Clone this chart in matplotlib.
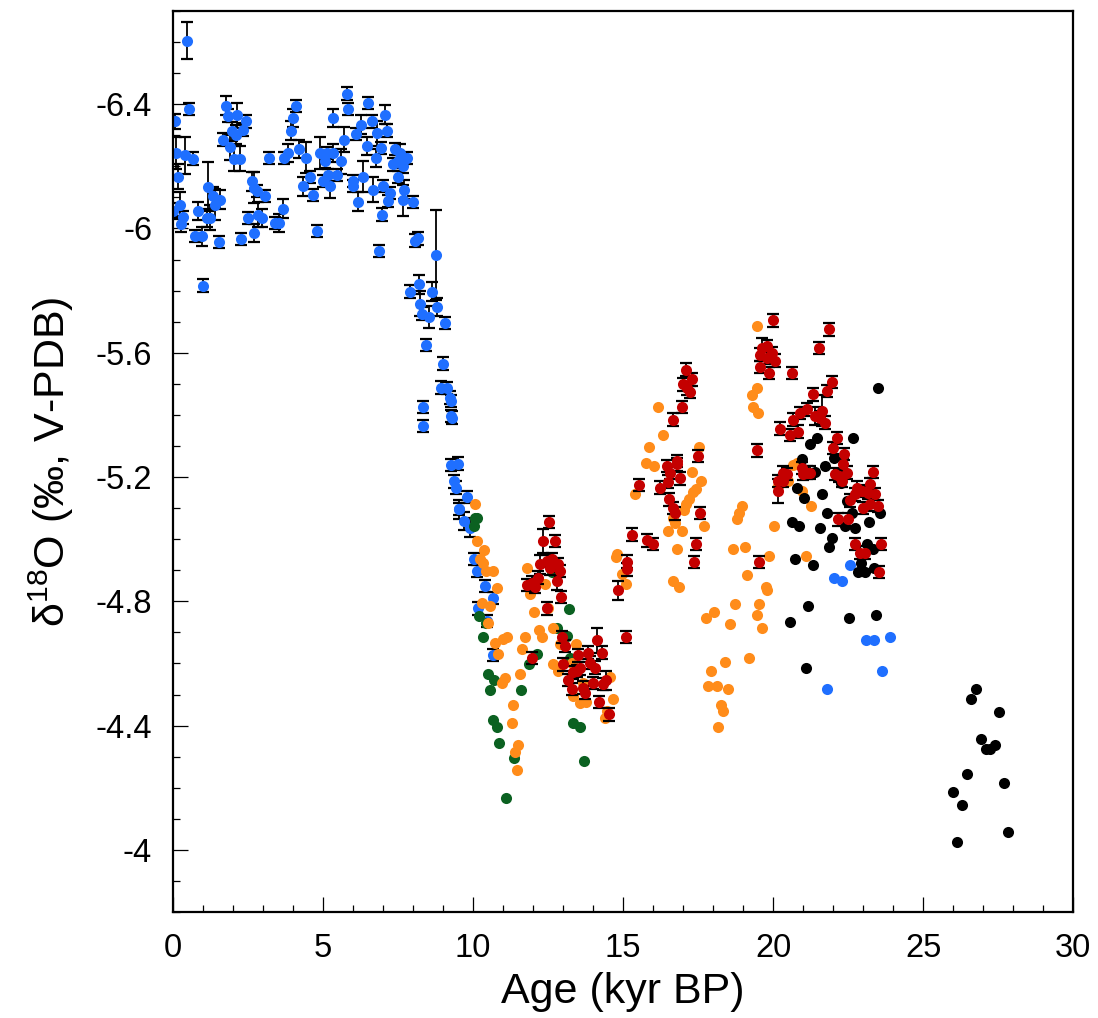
import numpy as np
from matplotlib import pyplot as plt
from matplotlib.ticker import MultipleLocator, FixedLocator, FormatStrFormatter

plt.rcParams['font.family'] = ['Liberation Sans', 'DejaVu Sans']
plt.rcParams['mathtext.fontset'] = 'custom'
plt.rcParams['mathtext.rm'] = 'Liberation Sans'
plt.rcParams['mathtext.it'] = 'Liberation Sans:italic'

# blue record (with error bars, last ones without)
blue_age = [0.46, 0.05, 0.54, 0.10, 0.40, 0.66, 0.18, 0.01, 0.23, 0.32, 0.27, 0.73, 0.96, 0.84, 1.01,
            1.16, 1.34, 1.57, 1.40, 1.12, 1.23, 1.52, 1.76, 1.82, 2.14, 2.43, 1.96, 2.10, 2.34, 1.68,
            1.90, 2.03, 2.23, 2.27, 2.62, 2.71, 2.79, 3.08, 2.51, 2.84, 2.96, 2.71, 3.20, 3.40, 3.54,
            3.66, 4.10, 4.01, 3.93, 3.84, 3.71, 4.21, 4.43, 4.57, 4.32, 4.68, 4.79, 5.34, 4.90, 5.12,
            5.34, 5.07, 5.60, 5.01, 5.23, 5.18, 5.46, 5.71, 5.79, 5.84, 6.09, 6.27, 6.51, 6.46, 6.62,
            6.79, 7.07, 7.12, 6.92, 6.77, 6.00, 6.01, 6.18, 6.34, 6.68, 7.01, 7.23, 7.18, 6.96, 6.87,
            7.40, 7.57, 7.79, 7.34, 7.51, 7.68, 7.49, 7.71, 7.68, 8.01, 8.07, 8.18, 8.77,
            7.90, 8.21, 8.62, 8.23, 8.79, 8.29, 8.54, 9.07, 8.42, 8.99, 8.92, 9.14, 9.23, 9.26, 8.32,
            8.34, 9.27, 9.29, 9.27, 9.51, 9.37, 9.43, 9.53, 9.81, 9.54, 9.71, 9.90, 10.03, 10.12,
            10.40, 10.68, 10.18, 10.48, 10.68,
            22.57, 22.03, 22.31, 23.10, 23.38, 23.90, 21.81, 23.64]
blue_d18o = [-6.604, -6.345, -6.385, -6.243, -6.236, -6.225, -6.166, -6.056, -6.077, -6.036, -6.015,
             -5.975, -5.975, -6.056, -5.816, -6.135, -6.104, -6.093, -6.077, -6.034, -6.034, -5.956,
             -6.395, -6.363, -6.364, -6.345, -6.313, -6.302, -6.318, -6.286, -6.262, -6.225, -6.225,
             -5.966, -6.152, -6.131, -6.120, -6.105, -6.034, -6.045, -6.034, -5.986, -6.227, -6.018,
             -6.018, -6.064, -6.395, -6.356, -6.315, -6.243, -6.227, -6.256, -6.227, -6.166, -6.136,
             -6.107, -5.991, -6.356, -6.243, -6.243, -6.243, -6.216, -6.216, -6.152, -6.138, -6.173,
             -6.173, -6.286, -6.434, -6.385, -6.304, -6.334, -6.404, -6.265, -6.345, -6.307, -6.366,
             -6.315, -6.259, -6.227, -6.152, -6.136, -6.086, -6.166, -6.125, -6.136, -6.115, -6.088,
             -6.045, -5.927, -6.256, -6.243, -6.227, -6.206, -6.216, -6.200, -6.166, -6.125, -6.091,
             -6.086, -5.961, -5.968, -5.914,
             -5.797, -5.820, -5.797, -5.758, -5.747, -5.726, -5.715, -5.696, -5.625, -5.565, -5.488,
             -5.486, -5.456, -5.445, -5.426, -5.365, -5.397, -5.391, -5.238, -5.243, -5.186, -5.166,
             -5.097, -5.136, -5.096, -5.058, -5.037, -4.937, -4.897, -4.849, -4.810, -4.777, -4.737,
             -4.627,
             -4.916, -4.876, -4.865, -4.675, -4.675, -4.685, -4.518, -4.576]
blue_err = [0.06, 0.025, 0.02, 0.05, 0.06, 0.02, 0.04, 0.025, 0.04, 0.02, 0.025, 0.02, 0.03, 0.03, 0.02,
            0.08, 0.03, 0.03, 0.05, 0.03, 0.04, 0.02, 0.03, 0.02, 0.04, 0.02, 0.03, 0.03, 0.02, 0.02,
            0.04, 0.04, 0.04, 0.02, 0.03, 0.05, 0.02, 0.02, 0.02, 0.04, 0.03, 0.03, 0.02, 0.02, 0.03,
            0.03, 0.02, 0.03, 0.03, 0.03, 0.02, 0.03, 0.05, 0.02, 0.03, 0.02, 0.02, 0.03, 0.05, 0.02,
            0.03, 0.02, 0.04, 0.02, 0.04, 0.02, 0.02, 0.04, 0.02, 0.02, 0.02, 0.03, 0.02, 0.03, 0.02,
            0.04, 0.03, 0.02, 0.02, 0.03, 0.02, 0.02, 0.03, 0.05, 0.04, 0.02, 0.02, 0.02, 0.02, 0.02,
            0.02, 0.03, 0.02, 0.02, 0.02, 0.02, 0.02, 0.03, 0.05, 0.02, 0.02, 0.02, 0.145,
            0.02, 0.03, 0.03, 0.04, 0.03, 0.02, 0.035, 0.02, 0.02, 0.02, 0.02, 0.02, 0.02, 0.02, 0.02,
            0.02, 0.02, 0.02, 0.02, 0.02, 0.02, 0.02, 0.02, 0.02, 0.03, 0.03, 0.03, 0.02, 0.02,
            0.02, 0.02, 0.02, 0.02, 0.02,
            0, 0, 0, 0, 0, 0, 0, 0]

# red record (with error bars)
red_age = [12.54, 12.34, 12.73, 12.23, 12.46, 12.62, 12.84, 12.90, 12.57, 12.18, 11.96, 11.79, 12.07,
           12.79, 12.93, 12.46, 12.96, 13.07, 11.98, 12.99, 13.51, 13.82, 14.12, 14.29, 13.90, 14.07,
           13.57, 13.46, 13.34, 13.18, 13.29, 13.68, 13.73, 14.01, 14.43, 14.34, 14.21, 14.53, 14.84,
           15.14, 15.14, 15.31, 15.79, 16.01, 15.10, 15.54, 16.23, 16.54, 16.66, 16.73,
           20.01, 21.88, 21.54, 19.62, 19.79, 19.96, 19.57, 19.79, 20.07, 19.57, 19.87, 20.64, 17.10,
           17.29, 17.01, 17.14, 17.23, 16.96, 16.68, 21.96, 21.79, 21.32, 21.12, 20.90, 20.68, 21.40,
           21.62, 21.73, 21.57, 20.23, 20.57, 20.84, 22.12, 22.01, 22.38, 19.48, 16.79, 16.79, 16.46,
           16.57, 16.90, 16.51, 17.51, 17.57, 17.43, 17.37, 19.54, 22.34, 22.46, 22.29, 22.07, 22.21,
           20.34, 20.46, 20.18, 20.32, 20.16, 20.96, 21.12, 21.23, 21.01, 23.32, 23.23, 22.79, 22.96,
           23.18, 23.40, 22.57, 22.73, 23.01, 23.23, 23.51, 22.18, 22.51, 22.73, 22.90, 23.07, 23.59,
           23.54]
red_d18o = [-5.056, -4.994, -4.994, -4.919, -4.930, -4.935, -4.919, -4.897, -4.906, -4.876, -4.860,
            -4.852, -4.846, -4.865, -4.814, -4.777, -4.685, -4.656, -4.617, -4.597, -4.626, -4.635,
            -4.675, -4.635, -4.603, -4.587, -4.584, -4.576, -4.571, -4.546, -4.517, -4.522, -4.506,
            -4.538, -4.546, -4.533, -4.476, -4.436, -4.835, -4.928, -4.903, -5.015, -4.996, -4.985,
            -4.685, -5.174, -5.166, -5.128, -5.101, -5.083,
            -5.704, -5.675, -5.616, -5.616, -5.621, -5.600, -5.594, -5.584, -5.575, -5.554, -5.535,
            -5.535, -5.546, -5.514, -5.498, -5.485, -5.474, -5.425, -5.385, -5.505, -5.477, -5.466,
            -5.418, -5.407, -5.385, -5.396, -5.414, -5.375, -5.391, -5.356, -5.335, -5.346, -5.326,
            -5.294, -5.275, -5.286, -5.251, -5.241, -5.235, -5.214, -5.196, -5.185, -5.267, -5.085,
            -4.985, -4.926, -4.926, -5.241, -5.214, -5.187, -5.209, -5.203, -5.214, -5.209, -5.187,
            -5.187, -5.155, -5.230, -5.214, -5.214, -5.209, -5.217, -5.178, -5.166, -5.155, -5.150,
            -5.146, -5.125, -5.144, -5.100, -5.112, -5.107, -5.064, -5.064, -4.985, -4.957, -4.957,
            -4.985, -4.895]
red_err = [0.02, 0.04, 0.02, 0.03, 0.02, 0.02, 0.02, 0.02, 0.02, 0.02, 0.02, 0.02, 0.02,
           0.03, 0.02, 0.02, 0.02, 0.02, 0.02, 0.02, 0.02, 0.02, 0.04, 0.02, 0.02, 0.02,
           0.02, 0.02, 0.02, 0.02, 0.02, 0.02, 0.02, 0.02, 0.03, 0.02, 0.02, 0.02, 0.03,
           0.02, 0.02, 0.02, 0.02, 0.02, 0.02, 0.02, 0.02, 0.02, 0.02, 0.02,
           0.02, 0.02, 0.02, 0.03, 0.02, 0.02, 0.02, 0.02, 0.02, 0.02, 0.02, 0.02, 0.02,
           0.02, 0.02, 0.02, 0.02, 0.02, 0.02, 0.02, 0.02, 0.02, 0.02, 0.02, 0.02, 0.03,
           0.05, 0.02, 0.02, 0.02, 0.02, 0.02, 0.02, 0.02, 0.02, 0.02, 0.02, 0.02, 0.02,
           0.02, 0.02, 0.02, 0.02, 0.02, 0.02, 0.02, 0.02, 0.02, 0.02, 0.02, 0.02, 0.02,
           0.02, 0.02, 0.02, 0.02, 0.04, 0.02, 0.02, 0.02, 0.02, 0.02, 0.02, 0.02, 0.02,
           0.02, 0.02, 0.02, 0.02, 0.02, 0.02, 0.02, 0.02, 0.02, 0.02, 0.02, 0.02, 0.02,
           0.02]

# orange record
orange_age = [10.07, 10.14, 10.37, 10.23, 10.34, 10.43, 10.68, 10.79, 10.29, 10.57, 10.51, 10.73, 11.01,
              11.12, 10.84, 11.73, 11.62, 11.07, 10.98, 11.57, 11.34, 11.29, 11.51, 11.40, 11.46, 11.81,
              11.90, 12.40, 12.04, 12.21, 12.31, 12.51, 12.66, 12.90, 13.43, 12.68, 12.84, 13.29, 13.68,
              13.32, 13.57, 13.77, 14.57, 14.68, 14.48, 14.40, 14.81, 14.77, 14.96, 15.10, 15.40,
              19.48, 19.46, 19.29, 19.34, 19.51, 16.18, 16.34, 15.87, 15.76, 16.03, 17.53, 17.29, 17.59,
              17.43, 17.34, 17.21, 17.10, 17.03, 17.70, 16.68, 16.73, 16.51, 16.96, 16.79, 16.68, 16.87,
              18.98, 18.88, 18.81, 18.66, 19.07, 19.88, 20.03, 19.12, 19.77, 19.79, 18.73, 19.54, 18.03,
              17.77, 18.57, 19.48, 19.62, 21.10, 21.26, 20.96, 20.68, 20.79, 20.51, 20.18, 19.21, 18.40,
              17.93, 17.84, 18.12, 18.51, 18.27, 18.34, 18.18]
orange_d18o = [-5.114, -4.994, -4.965, -4.935, -4.924, -4.898, -4.898, -4.844, -4.796, -4.785, -4.731,
               -4.667, -4.678, -4.686, -4.630, -4.686, -4.646, -4.554, -4.536, -4.565, -4.465, -4.407,
               -4.337, -4.316, -4.256, -4.906, -4.825, -4.855, -4.766, -4.708, -4.686, -4.780, -4.715,
               -4.664, -4.664, -4.597, -4.576, -4.603, -4.538, -4.495, -4.474, -4.477, -4.555, -4.485,
               -4.447, -4.426, -4.951, -4.943, -4.887, -4.857, -5.144,
               -5.686, -5.485, -5.464, -5.425, -5.407, -5.425, -5.334, -5.296, -5.244, -5.235, -5.296,
               -5.216, -5.187, -5.163, -5.153, -5.128, -5.112, -5.093, -5.044, -5.067, -5.053, -5.026,
               -5.026, -4.967, -4.865, -4.846, -5.107, -5.085, -5.066, -4.967, -4.975, -4.946, -5.044,
               -4.885, -4.846, -4.835, -4.793, -4.793, -4.767, -4.745, -4.726, -4.755, -4.715, -4.946,
               -5.107, -5.155, -5.240, -5.246, -5.187, -5.171, -4.617, -4.605,
               -4.577, -4.526, -4.526, -4.518, -4.466, -4.446, -4.396]

# green record
green_age = [10.07, 10.14, 10.03, 10.20, 10.43, 10.34, 12.12, 11.88, 10.51, 10.71, 10.57, 11.61, 10.66,
             10.81, 10.88, 11.37, 11.10, 13.21, 13.34, 13.57, 13.71, 12.79, 13.12, 13.23, 12.62]
green_d18o = [-5.069, -5.067, -5.042, -4.753, -4.731, -4.686, -4.630, -4.597, -4.567, -4.546, -4.516,
              -4.516, -4.417, -4.396, -4.345, -4.295, -4.166, -4.776, -4.407, -4.394, -4.286, -4.715,
              -4.688, -4.619, -4.895]

# black record
black_age = [23.51, 22.68, 21.23, 21.48, 20.96, 21.73, 22.03, 21.40, 20.79, 21.03, 21.64, 21.79, 22.46,
             22.62, 22.26, 20.62, 20.88, 21.57, 22.40, 23.21, 23.57, 22.73, 21.96, 21.88, 23.14, 23.32,
             20.73, 21.32, 22.93, 22.84, 23.07, 23.37, 21.18, 20.57, 22.54, 23.43, 21.09,
             26.77, 26.60, 27.53, 26.92, 27.10, 27.23, 27.40, 26.45, 27.70, 26.01, 26.31, 27.84, 26.14]
black_d18o = [-5.485, -5.326, -5.305, -5.326, -5.257, -5.237, -5.262, -5.217, -5.166, -5.133, -5.146,
              -5.085, -5.123, -5.085, -5.182, -5.056, -5.042, -5.035, -5.042, -5.056, -5.085, -5.035,
              -5.005, -4.975, -4.985, -4.967, -4.935, -4.916, -4.924, -4.895, -4.895, -4.908, -4.785,
              -4.734, -4.745, -4.755, -4.585,
              -4.517, -4.485, -4.445, -4.356, -4.324, -4.324, -4.337, -4.243, -4.214, -4.187, -4.145,
              -4.056, -4.026]

y_ticks = [-6.4, -6, -5.6, -5.2, -4.8, -4.4, -4]

c_blue = '#1f6fff'
c_red = '#c40000'
c_orange = '#ff8c1a'
c_green = '#0b6121'
ms = 8

fig = plt.figure(figsize=(10.98, 10.18), dpi=100)
ax = fig.add_axes([0.1576, 0.1041, 0.8197, 0.8851])

b_err = np.array(blue_err)
has_err = b_err > 0
ax.errorbar(np.array(blue_age)[has_err], np.array(blue_d18o)[has_err], yerr=b_err[has_err],
            fmt='none', ecolor='black', elinewidth=1.3, capsize=4.5, capthick=1.6, zorder=1)
ax.plot(blue_age, blue_d18o, 'o', color=c_blue, ms=ms, mew=0, zorder=2)
ax.plot(green_age, green_d18o, 'o', color=c_green, ms=ms, mew=0, zorder=3)
ax.plot(orange_age, orange_d18o, 'o', color=c_orange, ms=ms, mew=0, zorder=4)
ax.plot(black_age, black_d18o, 'o', color='black', ms=ms, mew=0, zorder=5)
ax.errorbar(red_age, red_d18o, yerr=red_err, fmt='none', ecolor='black', elinewidth=1.3,
            capsize=4.5, capthick=1.6, zorder=6)
ax.plot(red_age, red_d18o, 'o', color=c_red, ms=ms, mew=0, zorder=7)

ax.set_xlim(0, 30)
ax.set_ylim(-3.8, -6.7)
ax.xaxis.set_major_locator(MultipleLocator(5))
ax.xaxis.set_minor_locator(MultipleLocator(1))
ax.yaxis.set_major_locator(FixedLocator(y_ticks))
ax.yaxis.set_minor_locator(MultipleLocator(0.1))
ax.yaxis.set_major_formatter(FormatStrFormatter('%g'))

ax.tick_params(which='both', direction='in', top=False, right=False, width=0.9, labelsize=23.5, pad=15)
ax.tick_params(which='major', length=11)
ax.tick_params(which='minor', length=5)
for sp in ax.spines.values():
    sp.set_linewidth(1.6)

ax.set_xlabel('Age (kyr BP)', fontsize=31, labelpad=6)
ax.set_ylabel(r'$\mathregular{\delta^{18}}$O (‰, V-PDB)', fontsize=31, labelpad=14)

fig.savefig('out.png', dpi=100)
